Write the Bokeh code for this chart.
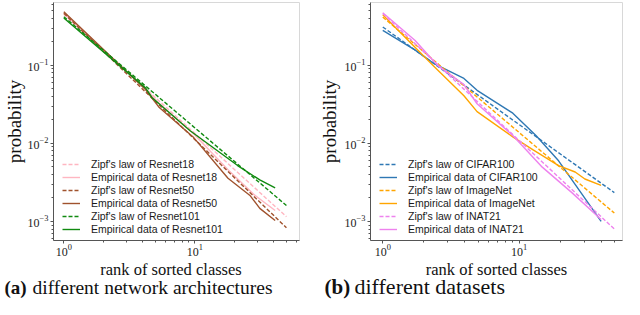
from bokeh.plotting import figure
from bokeh.models import FixedTicker, LogTickFormatter, Range1d
from bokeh.layouts import row, column
from bokeh.embed import file_html
from bokeh.resources import INLINE
from bokeh.core.properties import value

# ---------------- data ----------------
zipf_rank = [1, 50]

# (a) network architectures
r18_zipf = [0.45, 1.15e-3]
r18_emp_rank = [1, 4.2, 5.3, 9.7, 17.9, 28, 41]
r18_emp = [0.46, 0.05, 0.033, 0.0135, 4.6e-3, 2.24e-3, 1.38e-3]

r50_zipf = [0.465, 8.3e-4]
r50_emp_rank = [1, 4.2, 5.3, 9.7, 17.9, 26.5, 31.3, 41]
r50_emp = [0.486, 0.049, 0.0293, 0.0121, 3.57e-3, 2.13e-3, 1.47e-3, 1.03e-3]

r101_zipf = [0.42, 1.6e-3]
r101_emp_rank = [1, 4.2, 4.7, 9.2, 21.2, 31.3, 41]
r101_emp = [0.404, 0.0514, 0.0388, 0.0145, 5.2e-3, 3.4e-3, 2.7e-3]

# (b) datasets
c100_zipf = [0.31, 2.34e-3]
c100_emp_rank = [1, 1.72, 2.4, 3.94, 4.92, 9.0, 13.3, 19.5, 40]
c100_emp = [0.28, 0.158, 0.104, 0.068, 0.0478, 0.0244, 0.0126, 5.98e-3, 1.0e-3]

inet_zipf = [0.415, 1.28e-3]
inet_emp_rank = [1, 2.4, 3.94, 4.92, 9.0, 12.6, 19.5, 25.8, 30.4, 40]
inet_emp = [0.443, 0.095, 0.0407, 0.0255, 0.0121, 8.3e-3, 5.2e-3, 4.3e-3, 3.5e-3, 2.9e-3]

inat_zipf = [0.46, 8.0e-4]
inat_emp_rank = [1, 1.72, 2.54, 3.94, 4.92, 9.0, 14.8, 24.4, 40]
inat_emp = [0.472, 0.21, 0.099, 0.0565, 0.0322, 0.0126, 4.96e-3, 2.34e-3, 1.06e-3]

x_major_ticks = [1, 10]
x_minor_ticks = [2, 3, 4, 5, 6, 7, 8, 9, 20, 30, 40, 50, 60]
y_major_ticks = [1e-3, 1e-2, 1e-1]
y_minor_ticks = [6e-4, 7e-4, 8e-4, 9e-4,
                 2e-3, 3e-3, 4e-3, 5e-3, 6e-3, 7e-3, 8e-3, 9e-3,
                 2e-2, 3e-2, 4e-2, 5e-2, 6e-2, 7e-2, 8e-2, 9e-2,
                 2e-1, 3e-1, 4e-1, 5e-1, 6e-1]

x_label = "rank of sorted classes"
y_label = "probability"

SERIF = "Liberation Serif"
SANS = "Liberation Sans"

FIG_H = 258
CAP_H = 41
BORDER_BOTTOM = 18


def make_panel(series, xr, width, border_left, border_right, label_standoff):
    p = figure(width=width, height=FIG_H, x_axis_type="log", y_axis_type="log",
               x_range=Range1d(*xr), y_range=Range1d(5.7e-4, 0.638),
               output_backend="svg", toolbar_location=None,
               min_border_left=border_left, min_border_right=border_right,
               min_border_top=2, min_border_bottom=BORDER_BOTTOM,
               frame_align=False)
    for name, xs, ys, color, dash in series:
        p.line(xs, ys, line_color=color, line_width=1.4, line_dash=dash,
               legend_label=name)
    p.grid.visible = False
    p.outline_line_color = "#d8d8d8"
    p.background_fill_color = "white"
    p.xaxis.ticker = FixedTicker(ticks=x_major_ticks, minor_ticks=x_minor_ticks)
    p.yaxis.ticker = FixedTicker(ticks=y_major_ticks, minor_ticks=y_minor_ticks)
    p.xaxis.formatter = LogTickFormatter()
    p.yaxis.formatter = LogTickFormatter()
    for ax in (p.xaxis, p.yaxis):
        ax.axis_line_color = "#555555"
        ax.major_tick_line_color = "#555555"
        ax.minor_tick_line_color = "#555555"
        ax.major_tick_out = 3
        ax.major_tick_in = 0
        ax.minor_tick_out = 2
        ax.minor_tick_in = 0
        ax.major_label_text_font = SERIF
        ax.major_label_text_font_size = "12px"
        ax.major_label_text_color = "#222222"
        ax.major_label_standoff = 2
        ax.axis_label_text_font = SERIF
        ax.axis_label_text_font_size = "19px"
        ax.axis_label_text_font_style = "normal"
        ax.axis_label_text_color = "#111111"
    p.xaxis.major_label_standoff = 0
    p.yaxis.axis_label = y_label
    p.yaxis.axis_label_standoff = label_standoff

    lg = p.legend[0]
    lg.location = (5, 1)
    lg.padding = 4
    lg.margin = 0
    lg.spacing = 1
    lg.glyph_width = 18
    lg.glyph_height = 12
    lg.label_height = 12
    lg.label_standoff = 11
    lg.label_text_font = SANS
    lg.label_text_font_size = "10.5px"
    lg.label_text_color = "#1a1a1a"
    lg.background_fill_alpha = 0
    lg.border_line_alpha = 0
    return p


def make_caption(width, label_x, tag_x, cap_x, tag, rest, tag_size, cap_size, cap_y):
    c = figure(width=width, height=CAP_H, x_range=Range1d(0, width), y_range=Range1d(0, CAP_H),
               output_backend="svg", toolbar_location=None,
               x_axis_location=None, y_axis_location=None, min_border=0,
               min_border_left=0, min_border_right=0, min_border_top=0,
               min_border_bottom=0, frame_align=False)
    c.outline_line_color = None
    c.grid.visible = False
    c.text(x=[label_x], y=[CAP_H - 11], text=[x_label], text_font=value(SERIF),
           text_font_size="16.5px", text_baseline="middle", text_align="center",
           text_color="#111111")
    c.text(x=[tag_x], y=[cap_y], text=[tag], text_font=value(SERIF),
           text_font_style="bold", text_font_size=tag_size,
           text_baseline="middle", text_align="left", text_color="#111111")
    c.text(x=[cap_x], y=[cap_y], text=[rest], text_font=value(SERIF),
           text_font_size=cap_size, text_baseline="middle", text_align="left",
           text_color="#111111")
    return c


pink = "#ffb6c1"
brown = "#a0522d"
green = "#108a10"
blue = "#2f78b4"
orange = "#ffa500"
violet = "#ee82ee"
DASH = "4 2"

series_a = [
    ("Zipf's law of Resnet18", zipf_rank, r18_zipf, pink, DASH),
    ("Empirical data of Resnet18", r18_emp_rank, r18_emp, pink, "solid"),
    ("Zipf's law of Resnet50", zipf_rank, r50_zipf, brown, DASH),
    ("Empirical data of Resnet50", r50_emp_rank, r50_emp, brown, "solid"),
    ("Zipf's law of Resnet101", zipf_rank, r101_zipf, green, DASH),
    ("Empirical data of Resnet101", r101_emp_rank, r101_emp, green, "solid"),
]
series_b = [
    ("Zipf's law of CIFAR100", zipf_rank, c100_zipf, blue, DASH),
    ("Empirical data of CIFAR100", c100_emp_rank, c100_emp, blue, "solid"),
    ("Zipf's law of ImageNet", zipf_rank, inet_zipf, orange, DASH),
    ("Empirical data of ImageNet", inet_emp_rank, inet_emp, orange, "solid"),
    ("Zipf's law of INAT21", zipf_rank, inat_zipf, violet, DASH),
    ("Empirical data of INAT21", inat_emp_rank, inat_emp, violet, "solid"),
]

W_A = 310
W_B = 314
pa = make_panel(series_a, (0.834, 62.9), W_A, 42, 11, 0)
pb = make_panel(series_b, (0.813, 57.4), W_B, 60, 2, 2)
ca = make_caption(W_A, (42 + W_A - 11) / 2, 4, 32, "(a)", "different network architectures",
                  "19px", "19.5px", 12)
cb = make_caption(W_B, (60 + W_B - 2) / 2, 14, 44, "(b)", "different datasets",
                  "21px", "22px", 13)

layout = row(column(pa, ca, spacing=0), column(pb, cb, spacing=0), spacing=0)

open("out.html", "w").write(file_html(layout, INLINE))
